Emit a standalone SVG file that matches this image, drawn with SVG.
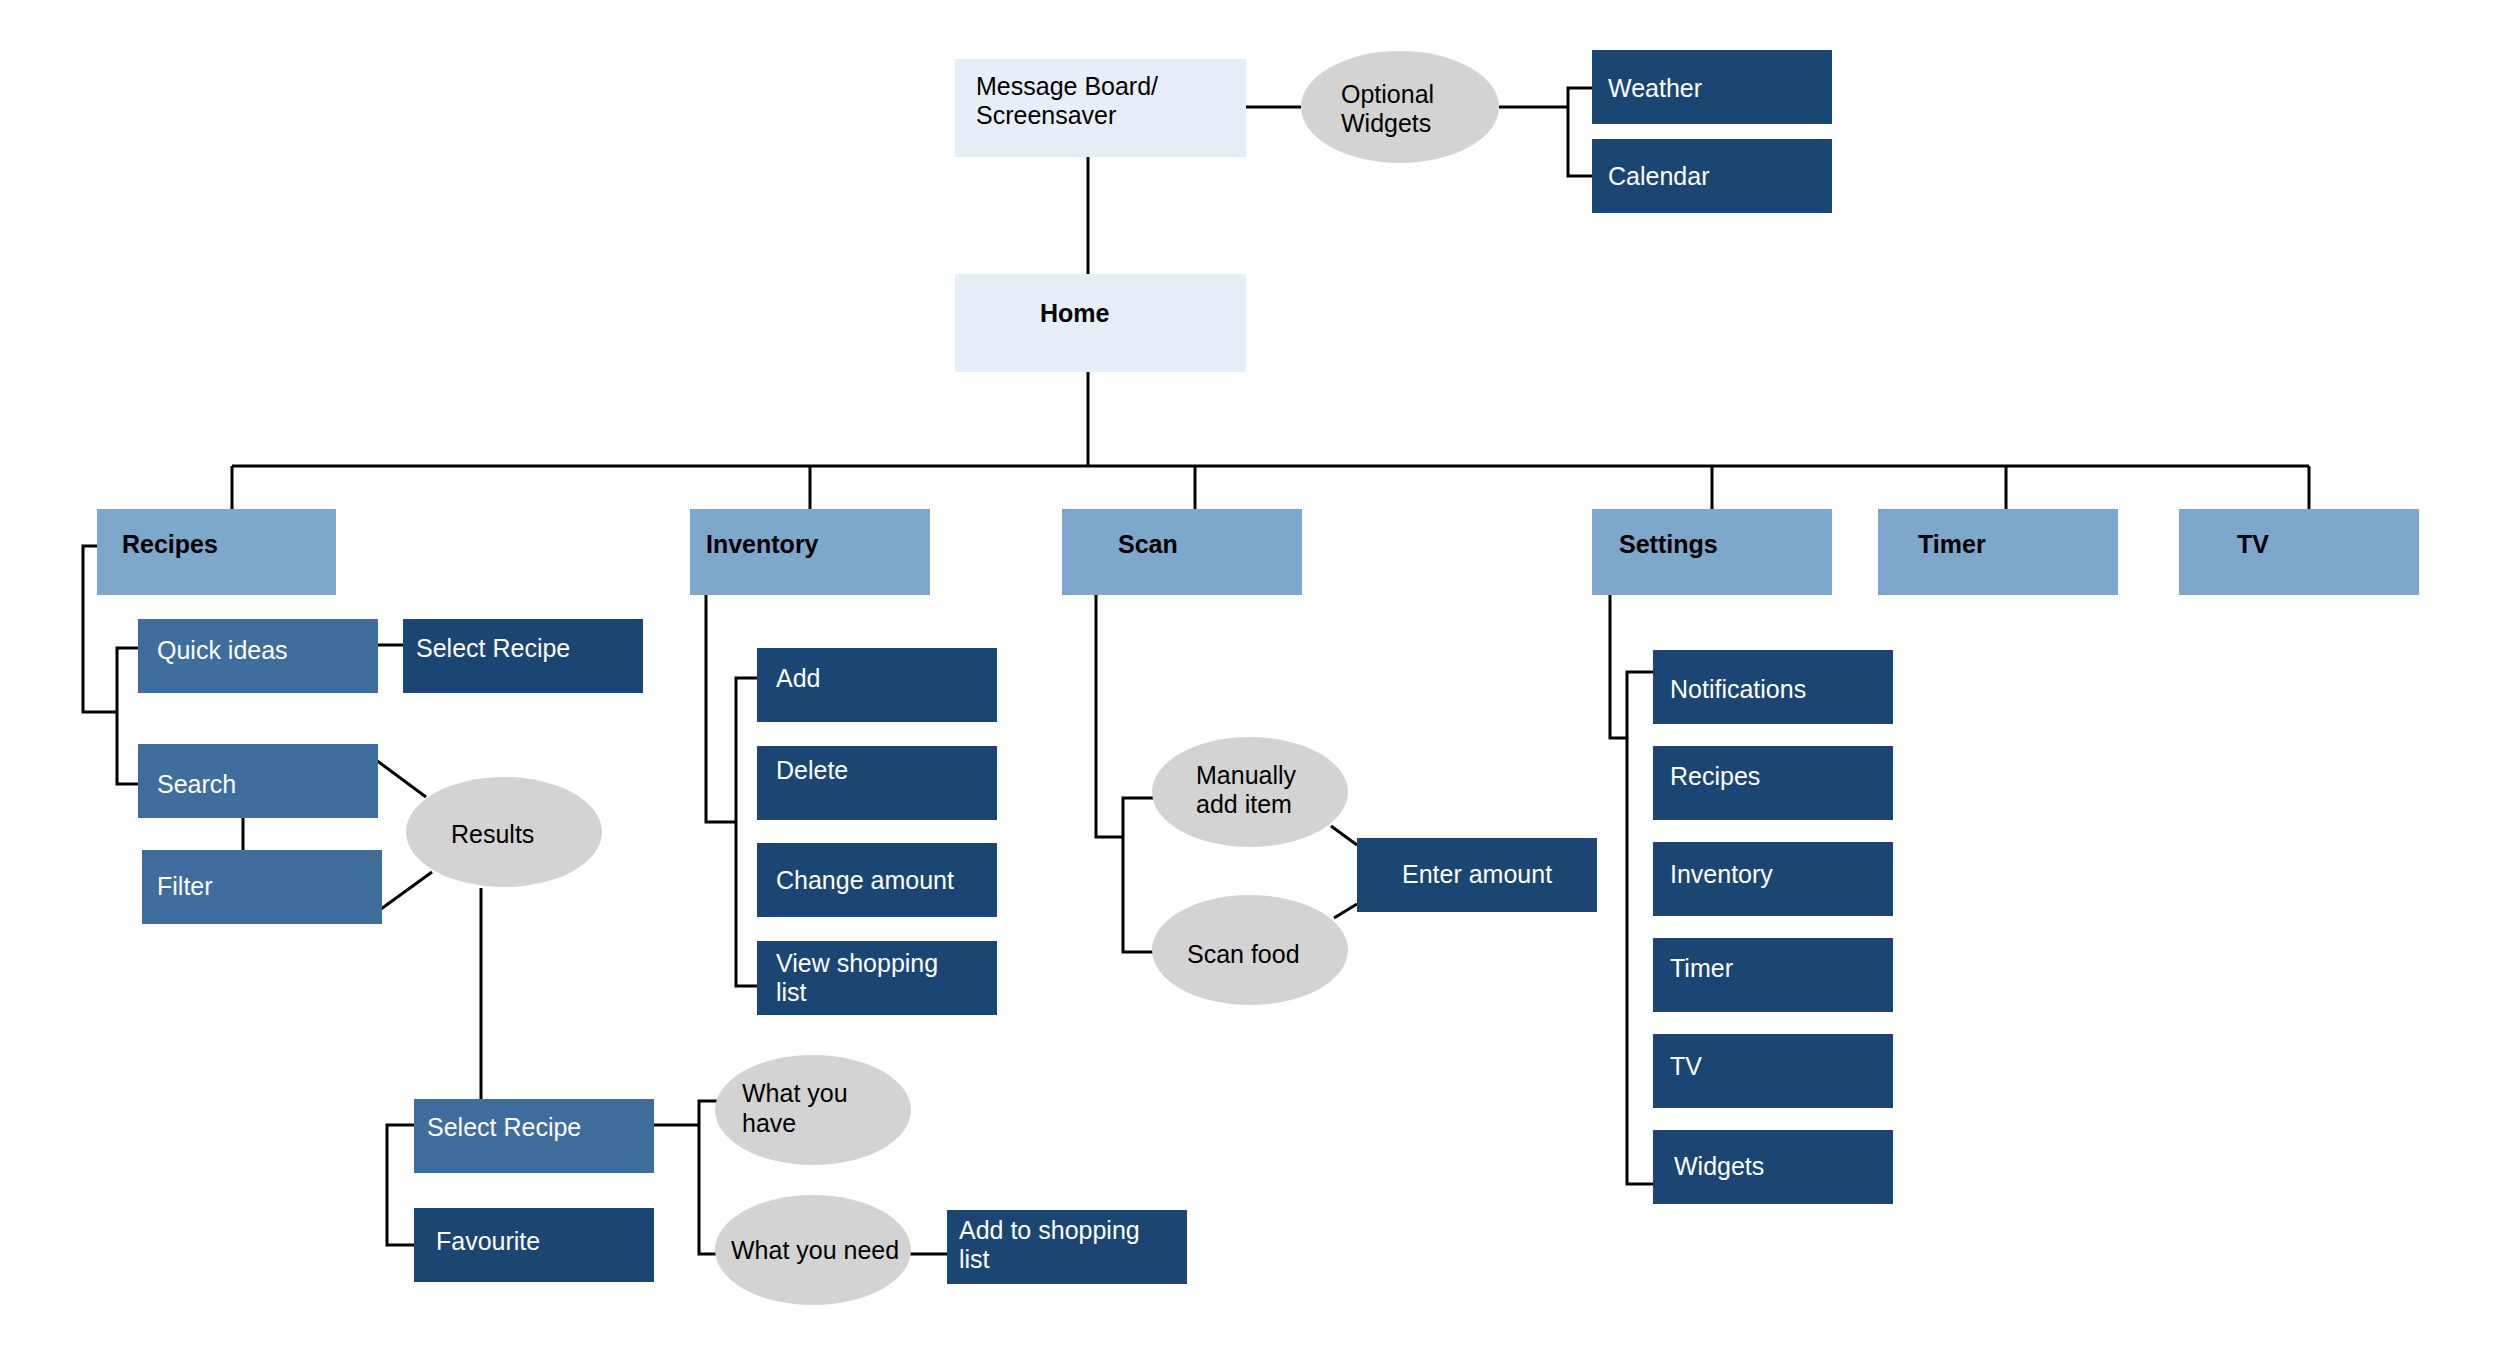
<svg xmlns="http://www.w3.org/2000/svg" width="2500" height="1362" viewBox="0 0 2500 1362">
<style>
text{font-family:"Liberation Sans",Arial,sans-serif;font-size:25px}
.w{fill:#fff}.k{fill:#000}.b{font-weight:bold}
.pale{fill:#e6eef7}.top{fill:#7da7cb}.mid{fill:#3e6d9e}.dark{fill:#1b4573}.ell{fill:#d3d3d3}
.c{fill:none;stroke:#000;stroke-width:3}
</style>
<rect width="2500" height="1362" fill="#fff"/>
<g id="connectors" class="c">
<path d="M1246 107H1301M1499 107H1568M1592 88H1568V176H1592"/>
<path d="M1088 157V274M1088 372V466M232 466H2309M232 466V509M810 466V509M1195 466V509M1712 466V509M2006 466V509M2309 466V509"/>
<path d="M97 546H83V712H117M138 648H117V784H138M378 645H403M243 818V850M376 760L426 797M381 909L432 872M481 888V1099"/>
<path d="M414 1125H387V1245H414M654 1125H699M719 1101H699V1254H719M910 1254H947"/>
<path d="M706 595V822H736M757 678H736V986H757"/>
<path d="M1096 595V837H1123M1160 798H1123V952H1160M1331 826L1357 845M1334 918L1357 904"/>
<path d="M1610 595V738H1627M1653 672H1627V1184H1653"/>
</g>
<g id="msgboard"><rect class="pale" x="955" y="59" width="291" height="98"/><text class="k" x="976" y="95">Message Board/</text><text class="k" x="976" y="124">Screensaver</text></g>
<g id="optional"><ellipse class="ell" cx="1400" cy="107" rx="99" ry="56"/><text class="k" x="1341" y="103">Optional</text><text class="k" x="1341" y="132">Widgets</text></g>
<g id="weather"><rect class="dark" x="1592" y="50" width="240" height="74"/><text class="w" x="1608" y="97">Weather</text></g>
<g id="calendar"><rect class="dark" x="1592" y="139" width="240" height="74"/><text class="w" x="1608" y="185">Calendar</text></g>
<g id="home"><rect class="pale" x="955" y="274" width="291" height="98"/><text class="k b" x="1040" y="322">Home</text></g>
<g id="recipes"><rect class="top" x="97" y="509" width="239" height="86"/><text class="k b" x="122" y="553">Recipes</text></g>
<g id="inventory"><rect class="top" x="690" y="509" width="240" height="86"/><text class="k b" x="706" y="553">Inventory</text></g>
<g id="scan"><rect class="top" x="1062" y="509" width="240" height="86"/><text class="k b" x="1118" y="553">Scan</text></g>
<g id="settings"><rect class="top" x="1592" y="509" width="240" height="86"/><text class="k b" x="1619" y="553">Settings</text></g>
<g id="timer"><rect class="top" x="1878" y="509" width="240" height="86"/><text class="k b" x="1918" y="553">Timer</text></g>
<g id="tv"><rect class="top" x="2179" y="509" width="240" height="86"/><text class="k b" x="2237" y="553">TV</text></g>
<g id="quick"><rect class="mid" x="138" y="619" width="240" height="74"/><text class="w" x="157" y="659">Quick ideas</text></g>
<g id="selrec1"><rect class="dark" x="403" y="619" width="240" height="74"/><text class="w" x="416" y="657">Select Recipe</text></g>
<g id="search"><rect class="mid" x="138" y="744" width="240" height="74"/><text class="w" x="157" y="793">Search</text></g>
<g id="filter"><rect class="mid" x="142" y="850" width="240" height="74"/><text class="w" x="157" y="895">Filter</text></g>
<g id="results"><ellipse class="ell" cx="504" cy="832" rx="98" ry="55"/><text class="k" x="451" y="843">Results</text></g>
<g id="selrec2"><rect class="mid" x="414" y="1099" width="240" height="74"/><text class="w" x="427" y="1136">Select Recipe</text></g>
<g id="favourite"><rect class="dark" x="414" y="1208" width="240" height="74"/><text class="w" x="436" y="1250">Favourite</text></g>
<g id="whathave"><ellipse class="ell" cx="813" cy="1110" rx="98" ry="55"/><text class="k" x="742" y="1102">What you</text><text class="k" x="742" y="1132">have</text></g>
<g id="whatneed"><ellipse class="ell" cx="813" cy="1250" rx="98" ry="55"/><text class="k" x="731" y="1259">What you need</text></g>
<g id="addshop"><rect class="dark" x="947" y="1210" width="240" height="74"/><text class="w" x="959" y="1239">Add to shopping</text><text class="w" x="959" y="1268">list</text></g>
<g id="add"><rect class="dark" x="757" y="648" width="240" height="74"/><text class="w" x="776" y="687">Add</text></g>
<g id="delete"><rect class="dark" x="757" y="746" width="240" height="74"/><text class="w" x="776" y="779">Delete</text></g>
<g id="change"><rect class="dark" x="757" y="843" width="240" height="74"/><text class="w" x="776" y="889">Change amount</text></g>
<g id="viewshop"><rect class="dark" x="757" y="941" width="240" height="74"/><text class="w" x="776" y="972">View shopping</text><text class="w" x="776" y="1001">list</text></g>
<g id="manual"><ellipse class="ell" cx="1250" cy="792" rx="98" ry="55"/><text class="k" x="1196" y="784">Manually</text><text class="k" x="1196" y="813">add item</text></g>
<g id="scanfood"><ellipse class="ell" cx="1250" cy="950" rx="98" ry="55"/><text class="k" x="1187" y="963">Scan food</text></g>
<g id="enter"><rect class="dark" x="1357" y="838" width="240" height="74"/><text class="w" x="1402" y="883">Enter amount</text></g>
<g id="s-notif"><rect class="dark" x="1653" y="650" width="240" height="74"/><text class="w" x="1670" y="698">Notifications</text></g>
<g id="s-recipes"><rect class="dark" x="1653" y="746" width="240" height="74"/><text class="w" x="1670" y="785">Recipes</text></g>
<g id="s-inventory"><rect class="dark" x="1653" y="842" width="240" height="74"/><text class="w" x="1670" y="883">Inventory</text></g>
<g id="s-timer"><rect class="dark" x="1653" y="938" width="240" height="74"/><text class="w" x="1670" y="977">Timer</text></g>
<g id="s-tv"><rect class="dark" x="1653" y="1034" width="240" height="74"/><text class="w" x="1670" y="1075">TV</text></g>
<g id="s-widgets"><rect class="dark" x="1653" y="1130" width="240" height="74"/><text class="w" x="1674" y="1175">Widgets</text></g>
</svg>
